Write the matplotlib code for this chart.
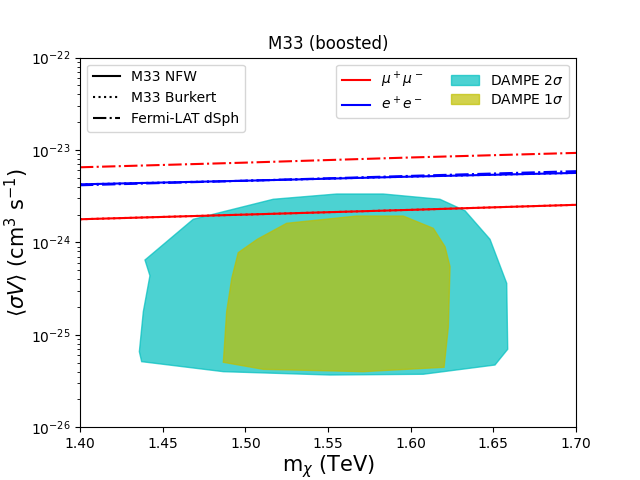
import numpy as np
import matplotlib
matplotlib.use('Agg')
import matplotlib.pyplot as plt
from matplotlib.lines import Line2D
from matplotlib.patches import Patch

# annihilation limits
mass = [1.40, 1.50, 1.60, 1.70]
mumu_nfw = [1.78e-24, 2.00e-24, 2.25e-24, 2.55e-24]
mumu_bur = [1.78e-24, 2.00e-24, 2.25e-24, 2.55e-24]
mumu_dsph = [6.5e-24, 7.3e-24, 8.3e-24, 9.3e-24]
ee_nfw = [4.25e-24, 4.65e-24, 5.15e-24, 5.65e-24]
ee_bur = [4.25e-24, 4.65e-24, 5.15e-24, 5.65e-24]
ee_dsph = [4.15e-24, 4.65e-24, 5.25e-24, 5.9e-24]

# DAMPE contours
c2_m = [1.4393, 1.4423, 1.4383, 1.4359, 1.4373, 1.4867, 1.5512, 1.6076, 1.6510,
        1.6587, 1.6581, 1.6480, 1.6329, 1.6177, 1.5834, 1.5553, 1.5169, 1.4685]
c2_sv = [6.45e-25, 4.36e-25, 1.78e-25, 6.56e-26, 5.12e-26, 3.99e-26, 3.67e-26, 3.74e-26, 4.71e-26,
         6.97e-26, 3.61e-25, 1.08e-24, 2.20e-24, 2.93e-24, 3.34e-24, 3.34e-24, 2.93e-24, 1.78e-24]
c1_m = [1.4957, 1.5072, 1.5250, 1.5674, 1.5955, 1.6137, 1.6208, 1.6238, 1.6228,
        1.6202, 1.5714, 1.5109, 1.4867, 1.4887, 1.4918]
c1_sv = [7.74e-25, 1.08e-24, 1.61e-24, 1.93e-24, 1.93e-24, 1.42e-24, 8.98e-25, 5.46e-25, 1.22e-25,
         4.45e-26, 3.99e-26, 4.23e-26, 5.04e-26, 1.78e-25, 4.09e-25]

fig = plt.figure(figsize=(6.4, 4.8))
ax = plt.subplot(111)

ax.fill(c2_m, c2_sv, color='c', alpha=0.7)
ax.fill(c1_m, c1_sv, color='y', alpha=0.7)

ax.plot(mass, mumu_nfw, 'r-')
ax.plot(mass, mumu_bur, 'r:')
ax.plot(mass, mumu_dsph, 'r-.')
ax.plot(mass, ee_nfw, 'b-')
ax.plot(mass, ee_bur, 'b:')
ax.plot(mass, ee_dsph, 'b-.')

ax.set_yscale('log')
ax.set_xlim(1.40, 1.70)
ax.set_ylim(1e-26, 1e-22)

h1 = [Line2D([], [], color='k', ls='-'),
      Line2D([], [], color='k', ls=':'),
      Line2D([], [], color='k', ls='-.')]
leg1 = ax.legend(h1, ['M33 NFW', 'M33 Burkert', 'Fermi-LAT dSph'], loc='upper left')
ax.add_artist(leg1)

h2 = [Line2D([], [], color='r'), Line2D([], [], color='b'),
      Patch(color='c', alpha=0.7), Patch(color='y', alpha=0.7)]
ax.legend(h2, [r'$\mu^+\mu^-$', r'$e^+e^-$', r'DAMPE 2$\sigma$', r'DAMPE 1$\sigma$'],
          loc='upper right', ncol=2, labelspacing=0.35)

plt.title('M33 (boosted)')
plt.xlabel(r'm$_\chi$ (TeV)', fontsize=15, labelpad=2)
plt.ylabel(r'$\langle\sigma V\rangle$ (cm$^3$ s$^{-1}$)', fontsize=15, labelpad=0)

plt.savefig('out.png', dpi=100)
